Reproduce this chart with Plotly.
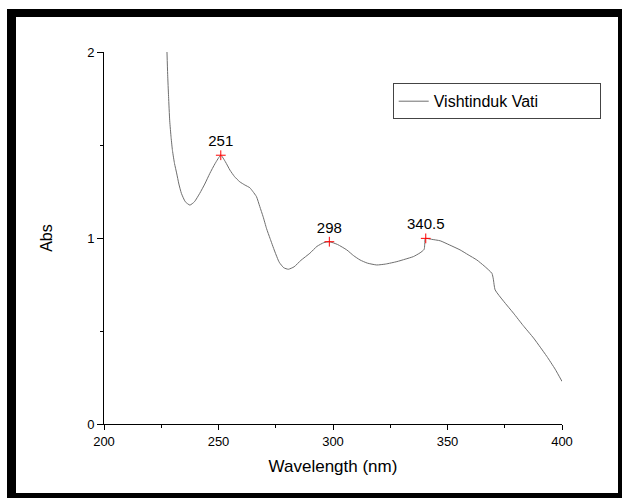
import plotly.graph_objects as go

# ---- data ----
wavelength = [227.5, 227.8, 228.2, 228.7, 229.3, 229.9, 230.8, 231.7, 232.7, 233.8,
              235.5, 237.5, 239.5, 241.8,
              244.0, 246.2, 248.5, 251.0, 253.0, 255.0, 257.0, 259.3, 261.5, 263.7,
              265.0, 266.6, 268.0, 269.5, 271.0, 272.5, 274.5, 276.5, 278.5, 280.5,
              283.0, 286.0, 289.9, 293.0, 296.0, 298.4, 302.0, 306.0, 309.0, 311.8,
              315.0, 319.1, 323.0, 327.9, 331.5, 335.1, 338.0, 339.8, 340.2, 340.5,
              343.0, 346.8, 351.0, 355.5, 359.0, 362.8, 366.0, 369.4, 370.0, 370.8,
              374.5, 378.8, 383.0, 387.6, 390.5, 393.4, 397.0, 400.0]
absorbance = [2.00, 1.88, 1.76, 1.63, 1.54, 1.47, 1.40, 1.35, 1.29, 1.24,
              1.195, 1.177, 1.195, 1.24,
              1.29, 1.347, 1.40, 1.445, 1.41, 1.365, 1.33, 1.302, 1.285, 1.27,
              1.25, 1.222, 1.17, 1.114, 1.05, 0.998, 0.93, 0.87, 0.84, 0.832,
              0.845, 0.88, 0.918, 0.955, 0.975, 0.980, 0.965, 0.936, 0.905, 0.882,
              0.865, 0.855, 0.860, 0.873, 0.886, 0.900, 0.920, 0.939, 0.993, 0.998,
              0.993, 0.985, 0.962, 0.936, 0.910, 0.882, 0.850, 0.810, 0.780, 0.721,
              0.66, 0.596, 0.530, 0.462, 0.413, 0.363, 0.295, 0.229]

peak_wl = [251.0, 298.4, 340.5]
peak_abs = [1.445, 0.980, 0.998]
peak_labels = ["251", "298", "340.5"]

series_name = "Vishtinduk Vati"
x_ticks = [200, 250, 300, 350, 400]
y_ticks = [0, 1, 2]

FONT = "Arial, Liberation Sans, sans-serif"
W, H = 622, 498
ML, MR, MT, MB = 104, 60, 52, 74
PW, PH = W - ML - MR, H - MT - MB


def xp(px):
    return (px - ML) / PW


def yp(py):
    return (H - MB - py) / PH


fig = go.Figure()
fig.add_trace(go.Scatter(
    x=wavelength, y=absorbance, mode="lines", name=series_name,
    line=dict(color="#6e6e6e", width=1, shape="spline", smoothing=0.5),
))
fig.add_trace(go.Scatter(
    x=peak_wl, y=peak_abs, mode="markers+text", text=peak_labels,
    textposition="top center", textfont=dict(family=FONT, size=15, color="black"),
    marker=dict(symbol="cross-thin", size=7, line=dict(color="red", width=1)),
    showlegend=False, hoverinfo="skip",
))

# outer black frame
frame = [
    (7, 9, 16, 505),
    (7, 9, 630, 17),
    (618, 9, 630, 505),
    (7, 493, 630, 505),
]
shapes = [dict(type="rect", xref="paper", yref="paper",
               x0=xp(a), x1=xp(c), y0=yp(d), y1=yp(b),
               fillcolor="black", line=dict(width=0), layer="above")
          for a, b, c, d in frame]

fig.update_layout(
    width=W, height=H,
    margin=dict(l=ML, r=MR, t=MT, b=MB, autoexpand=False),
    paper_bgcolor="white", plot_bgcolor="white",
    font=dict(family=FONT, color="black", size=13),
    shapes=shapes,
    showlegend=True,
    legend=dict(x=xp(392.7), y=yp(83.3), xanchor="left", yanchor="top",
                orientation="h",
                bordercolor="#444", borderwidth=1, bgcolor="white",
                font=dict(family=FONT, size=16, color="black"),
                entrywidth=161, entrywidthmode="pixels"),
    xaxis=dict(range=[200, 400], tickvals=x_ticks, showgrid=False, zeroline=False,
               showline=True, linecolor="black", linewidth=1,
               ticks="outside", ticklen=5, tickwidth=1, tickcolor="black",
               minor=dict(ticks="outside", ticklen=3, dtick=25, tick0=200, tickcolor="black"),
               tickfont=dict(size=13),
               title=dict(text="Wavelength (nm)", font=dict(size=17), standoff=12)),
    yaxis=dict(range=[0, 2], tickvals=y_ticks, showgrid=False, zeroline=False,
               showline=True, linecolor="black", linewidth=1,
               ticks="outside", ticklen=6, tickwidth=1, tickcolor="black",
               minor=dict(ticks="outside", ticklen=3, dtick=0.5, tick0=0, tickcolor="black"),
               tickfont=dict(size=13),
               title=dict(text="Abs", font=dict(size=16), standoff=30)),
)

fig.write_html("out.html")
